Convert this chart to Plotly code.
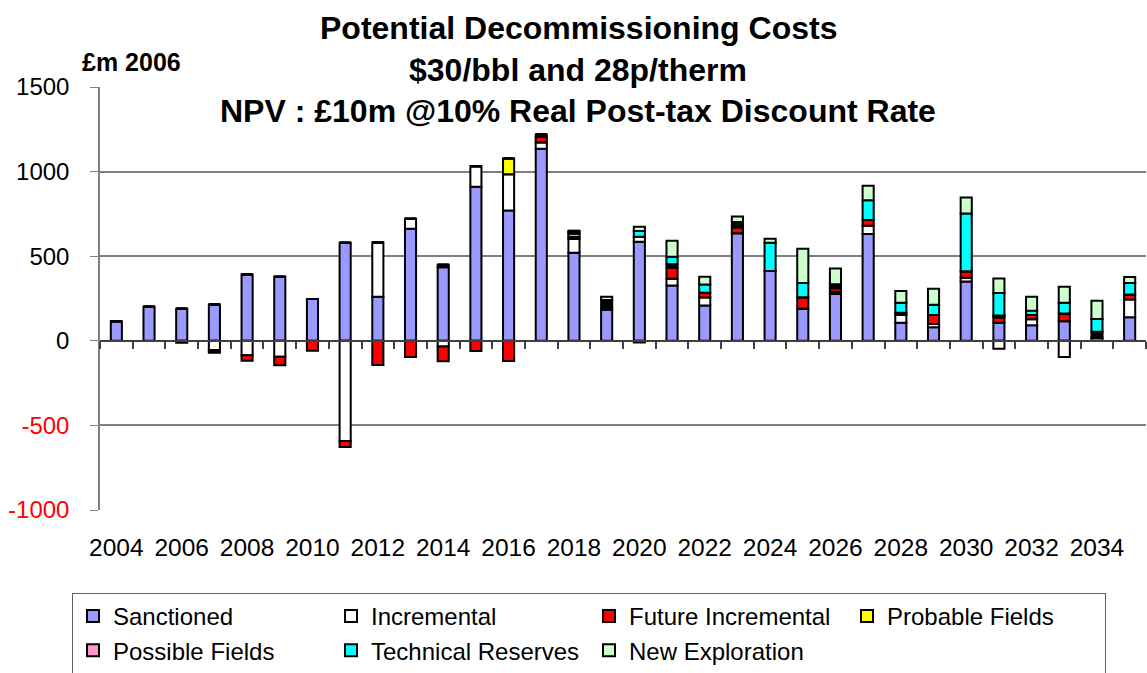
import plotly.graph_objects as go

years = [str(y) for y in range(2004, 2036)]

sanctioned = [116, 201, 189, 215, 392, 379, 247, 580, 261, 662, 434, 911, 770, 1135, 520, 185,
              586, 327, 209, 635, 412, 189, 276, 631, 106, 80, 350, 106, 92, 115, 18, 139]
incremental = [0, 0, -12, -55, -85, -95, 0, -592, 320, 59, -33, 120, 214, 37, 81, 0,
               29, 40, 47, 0, 0, 0, 14, 49, 46, 20, 23, -47, 35, -96, 0, 105]
future_incremental = [0, 0, 0, 0, -33, -49, -59, -35, -143, -96, -88, -61, -120, 32, 12, 0,
                      0, 65, 28, 35, 0, 69, 20, 34, 0, 52, 38, 31, 25, 47, 0, 30]
other = [0, 0, 0, -16, 0, 0, 0, 0, 0, 0, 16, 0, 0, 16, 0, 56,
         -10, 20, 0, 32, 0, 0, 24, 0, 14, 0, 0, 12, 0, 0, 35, 0]
probable_fields = [0, 0, 0, 0, 0, 0, 0, 0, 0, 0, 0, 0, 94, 0, 0, 0,
                   0, 0, 0, 0, 0, 0, 0, 0, 0, 0, 0, 0, 0, 0, 0, 0]
possible_fields = [0, 0, 0, 0, 0, 0, 0, 0, 0, 0, 0, 0, 0, 0, 20, 0,
                   0, 0, 0, 0, 0, 0, 0, 0, 0, 0, 0, 0, 0, 0, 0, 0]
technical_reserves = [0, 0, 0, 0, 0, 0, 0, 0, 0, 0, 0, 0, 0, 0, 10, 0,
                      34, 45, 49, 0, 168, 83, 0, 117, 59, 61, 342, 134, 26, 63, 76, 68]
new_exploration = [0, 0, 0, 0, 0, 0, 0, 0, 0, 0, 0, 0, 0, 0, 8, 19,
                   25, 95, 46, 32, 23, 203, 93, 86, 70, 94, 94, 85, 82, 94, 108, 35]

y_ticks = [-1000, -500, 0, 500, 1000, 1500]
x_tick_labels = [y if i % 2 == 0 else "" for i, y in enumerate(years)]

series = [
    ("Sanctioned", sanctioned, "#9999FF", True),
    ("Incremental", incremental, "#FFFFFF", True),
    ("Future Incremental", future_incremental, "#FF0000", True),
    ("Other", other, "#000000", False),
    ("Probable Fields", probable_fields, "#FFFF00", True),
    ("Possible Fields", possible_fields, "#FF99CC", True),
    ("Technical Reserves", technical_reserves, "#00FFFF", True),
    ("New Exploration", new_exploration, "#CCFFCC", True),
]

W, H = 1147, 673
L, R, T, B = 100, 1, 87, 163
PH = H - T - B
PW = W - L - R


def py(p):
    return (H - B - p) / PH


def px(p):
    return (p - L) / PW


FONT = "Liberation Sans, Arial, sans-serif"

fig = go.Figure()
for name, vals, color, show in series:
    fig.add_trace(go.Bar(
        x=years, y=vals, name=name, showlegend=show,
        marker=dict(color=color, line=dict(color="#000000", width=2)),
    ))

ticktext = [f"<span style='color:#FF0000'>{v}</span>" if v < 0 else str(v) for v in y_ticks]
y_min, y_max = y_ticks[0], y_ticks[-1]
zero_pos = (0 - y_min) / (y_max - y_min)

fig.update_layout(
    width=W, height=H,
    barmode="relative", bargap=0.66,
    plot_bgcolor="white", paper_bgcolor="white",
    margin=dict(l=L, r=R, t=T, b=B, autoexpand=False),
    font=dict(family=FONT, size=24, color="black"),
    xaxis=dict(type="category", tickvals=years, ticktext=x_tick_labels, tickangle=0,
               anchor="free", position=zero_pos, tickson="boundaries",
               ticks="outside", ticklen=7, tickcolor="#404040", tickwidth=1.5,
               showline=True, linecolor="#404040", linewidth=1.5,
               showgrid=False, tickfont=dict(size=24.5), ticklabelstandoff=185),
    yaxis=dict(range=[y_min, y_max], tickvals=y_ticks, ticktext=ticktext, ticks="outside",
               ticklen=8, tickcolor="#808080", showline=True, linecolor="#808080", linewidth=1.5,
               gridcolor="#808080", gridwidth=1.5, zeroline=False, tickfont=dict(size=24),
               ticklabelstandoff=16),
    legend=dict(orientation="h", x=px(72), y=py(593), xanchor="left", yanchor="top",
                bordercolor="#606060", borderwidth=1, font=dict(size=24),
                entrywidth=213, traceorder="normal"),
    annotations=[
        dict(text="<b>Potential Decommissioning Costs</b>", x=px(578), y=py(28), xref="paper",
             yref="paper", showarrow=False, xanchor="center", yanchor="middle",
             font=dict(size=32)),
        dict(text="<b>$30/bbl and 28p/therm</b>", x=px(578), y=py(70), xref="paper",
             yref="paper", showarrow=False, xanchor="center", yanchor="middle",
             font=dict(size=32)),
        dict(text="<b>NPV : £10m @10% Real Post-tax Discount Rate</b>", x=px(578), y=py(111),
             xref="paper", yref="paper", showarrow=False, xanchor="center", yanchor="middle",
             font=dict(size=32)),
        dict(text="<b>£m 2006</b>", x=px(80), y=py(62), xref="paper", yref="paper",
             showarrow=False, xanchor="left", yanchor="middle", font=dict(size=25)),
    ],
)

fig.write_html("out.html", config={"displayModeBar": False},
               post_script="document.body.style.margin='0';")
